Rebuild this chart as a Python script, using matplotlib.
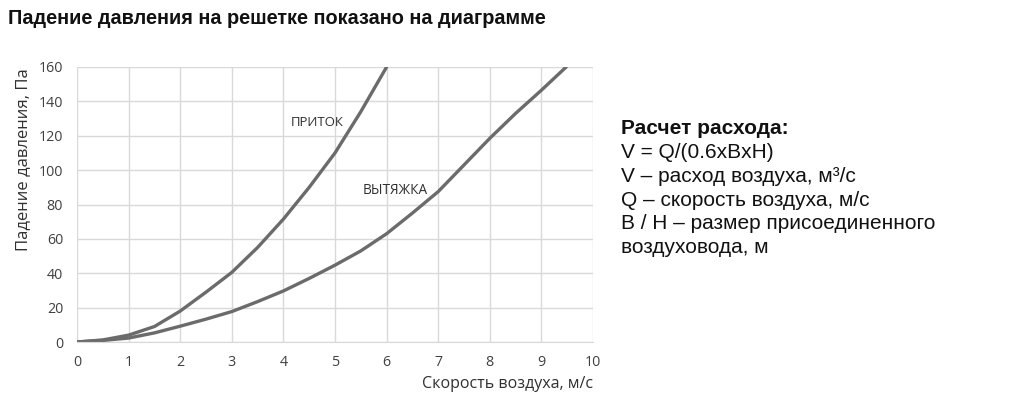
import numpy as np
import matplotlib
matplotlib.use("Agg")
import matplotlib.pyplot as plt

plt.rcParams['font.family'] = ['Liberation Sans', 'DejaVu Sans']

# data
speed_pritok = [0, 0.5, 1, 1.5, 2, 2.5, 3, 3.5, 4, 4.5, 5, 5.5, 6]
dp_pritok = [0, 1.2, 4, 9, 18, 29, 40.5, 55, 71.5, 90, 110, 134, 160]

speed_vyt = [0, 0.5, 1, 1.5, 2, 2.5, 3, 3.5, 4, 4.5, 5, 5.5, 6, 6.5, 7, 7.5, 8, 8.5, 9, 9.48]
dp_vyt = [0, 0.9, 2.3, 5.3, 9.2, 13.3, 17.7, 23.5, 29.7, 37, 44.7, 53, 63, 75, 87.5,
          103, 118.5, 133, 146.5, 160]

x_ticks = np.arange(0, 11, 1)
y_ticks = np.arange(0, 161, 20)

line_col = "#6b6b6b"
chart_font = ['Open Sans', 'DejaVu Sans']

fig = plt.figure(figsize=(10.24, 3.97), dpi=100)
ax = fig.add_axes([77/1024, 1-342/397, (593-77)/1024, (342-67)/397])

ax.plot(speed_pritok, dp_pritok, color=line_col, lw=2.4, solid_capstyle="round",
        solid_joinstyle="round")
ax.plot(speed_vyt, dp_vyt, color=line_col, lw=2.4, solid_capstyle="round",
        solid_joinstyle="round")

ax.set_xlim(0, 10)
ax.set_ylim(0, 160)
ax.set_xticks(x_ticks)
ax.set_yticks(y_ticks)
ax.grid(color="#d9d9d9", lw=1)
ax.set_axisbelow(True)
for s in ["top", "right", "left"]:
    ax.spines[s].set_visible(False)
ax.spines["bottom"].set_color("#d9d9d9")
ax.tick_params(axis="x", length=0, pad=9)
ax.tick_params(axis="y", length=0, pad=10)
for lab in ax.get_xticklabels() + ax.get_yticklabels():
    lab.set_color("#404040")
    lab.set_family(chart_font)
    lab.set_fontsize(10.3)

ax.text(4.65, 127.5, "ПРИТОК", fontsize=9.5, color="#303030", ha="center",
        va="center", family=chart_font)
ax.text(6.16, 88.4, "ВЫТЯЖКА", fontsize=9.8, color="#303030", ha="center",
        va="center", family=chart_font)

fig.text(23.5/1024, 1-160/397, "Падение давления, Па", rotation=90, fontsize=12,
         color="#303030", ha="center", va="center", family=chart_font)
fig.text(593/1024, 1-384/397, "Скорость воздуха, м/с", fontsize=11.5,
         color="#303030", ha="right", va="center", family=chart_font)

fig.text(8/1024, 1-18/397, "Падение давления на решетке показано на диаграмме",
         fontsize=14.3, fontweight="bold", color="#111111", ha="left", va="center")

fig.text(621/1024, 1-129/397, "Расчет расхода:", fontsize=15, fontweight="bold",
         color="#111111", ha="left", va="center")
info_lines = ["V = Q/(0.6xBxH)",
              "V – расход воздуха, м³/с",
              "Q – скорость воздуха, м/с",
              "B / H – размер присоединенного",
              "воздуховода, м"]
for i, t in enumerate(info_lines):
    fig.text(621/1024, 1-(152.5+i*23.8)/397, t, fontsize=15, color="#111111",
             ha="left", va="center")

fig.savefig("out.png", dpi=100)
